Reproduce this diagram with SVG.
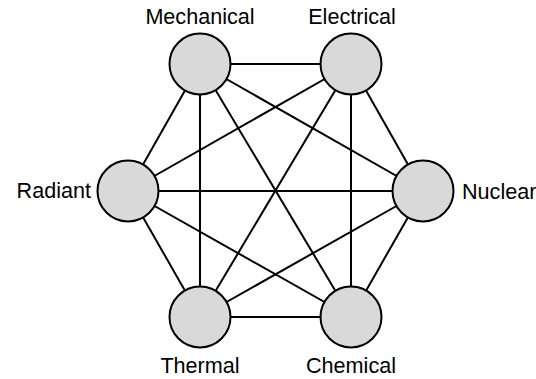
<svg xmlns="http://www.w3.org/2000/svg" width="536" height="379" viewBox="0 0 536 379">
<style>
.node circle{fill:#d9d9d9;stroke:#000;stroke-width:2}
.edges line{stroke:#000;stroke-width:2}
text{font-family:"Liberation Sans",Arial,sans-serif;font-size:21.6px;fill:#000}
</style>
<rect width="536" height="379" fill="#fff"/>
<g id="edges" class="edges">
<line x1="200" y1="64" x2="351" y2="64"/>
<line x1="200" y1="64" x2="423" y2="191"/>
<line x1="200" y1="64" x2="351" y2="317"/>
<line x1="200" y1="64" x2="200" y2="317"/>
<line x1="200" y1="64" x2="128" y2="191"/>
<line x1="351" y1="64" x2="423" y2="191"/>
<line x1="351" y1="64" x2="351" y2="317"/>
<line x1="351" y1="64" x2="200" y2="317"/>
<line x1="351" y1="64" x2="128" y2="191"/>
<line x1="423" y1="191" x2="351" y2="317"/>
<line x1="423" y1="191" x2="200" y2="317"/>
<line x1="423" y1="191" x2="128" y2="191"/>
<line x1="351" y1="317" x2="200" y2="317"/>
<line x1="351" y1="317" x2="128" y2="191"/>
<line x1="200" y1="317" x2="128" y2="191"/>
</g>
<g id="mechanical" class="node"><circle cx="200" cy="64" r="30.5"/><text x="200" y="24" text-anchor="middle">Mechanical</text></g>
<g id="electrical" class="node"><circle cx="351" cy="64" r="30.5"/><text x="352" y="24" text-anchor="middle">Electrical</text></g>
<g id="nuclear" class="node"><circle cx="423" cy="191" r="30.5"/><text x="462" y="199">Nuclear</text></g>
<g id="chemical" class="node"><circle cx="351" cy="317" r="30.5"/><text x="351" y="373" text-anchor="middle">Chemical</text></g>
<g id="thermal" class="node"><circle cx="200" cy="317" r="30.5"/><text x="200" y="373" text-anchor="middle">Thermal</text></g>
<g id="radiant" class="node"><circle cx="128" cy="191" r="30.5"/><text x="91" y="198" text-anchor="end">Radiant</text></g>
</svg>
